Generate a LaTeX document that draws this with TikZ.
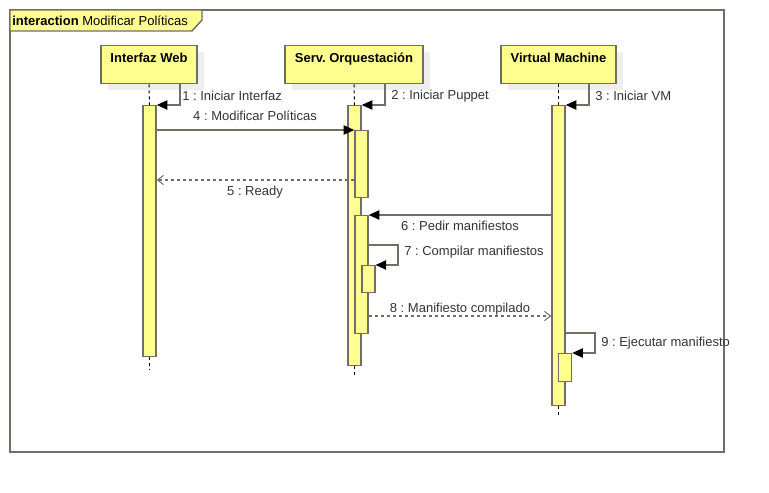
\documentclass[tikz,border=0pt]{standalone}
\usepackage{fontspec}
\setmainfont{Liberation Sans}
\usetikzlibrary{arrows.meta,calc}
\definecolor{umlfill}{HTML}{FFFF90}
\definecolor{umlline}{HTML}{6F6F66}
\definecolor{umlshadow}{HTML}{EEEEEE}
\definecolor{umltext}{HTML}{333333}
\begin{document}
\frenchspacing
\begin{tikzpicture}[x=0.75pt,y=-0.75pt,
  head/.style={draw=umlline,fill=umlfill,line width=1.1pt,inner sep=0pt,
    text=black,font=\fontsize{9.75}{11}\selectfont\bfseries,
    minimum height=28.5pt,text depth=10pt},
  bar/.style={draw=umlline,fill=umlfill,line width=1.1pt,inner sep=0pt,
    minimum width=9.75pt,minimum height={#1*0.75pt},anchor=north},
  bar/.default=20,
  lifeline/.style={draw=black,line width=0.75pt,dash pattern=on 2.25pt off 2.25pt},
  msg/.style={draw=umlline,line width=1.1pt},
  sync/.style={msg,-{Triangle[length=8pt,width=7pt,black]}},
  reply/.style={msg,dash pattern=on 2.25pt off 2.25pt,
    -{Straight Barb[length=4.5pt,width=7pt,line width=0.75pt]}},
  lbl/.style={text=umltext,font=\fontsize{9.75}{11}\selectfont,inner sep=0pt}
]
\useasboundingbox (0,0) rectangle (769,493);

% interaction frame with its name tab
\draw[draw=umlline,line width=1.1pt] (10,10) rectangle (724,452);
\draw[draw=umlline,line width=1.1pt,fill=umlfill]
  (10,10) -- (202,10) -- (202,20) -- (192,31) -- (10,31) -- cycle;
\node[lbl,anchor=west,text=black] (title) at (12,20.5)
  {\textbf{interaction} Modificar Políticas};

% lifeline heads with their soft shadows
\fill[umlshadow] (108,52) rectangle (204,90);
\fill[umlshadow] (292,52) rectangle (430,90);
\fill[umlshadow] (508,52) rectangle (623,90);
\node[head,minimum width=72pt,anchor=north] (iw) at (149,45) {Interfaz Web};
\node[head,minimum width=103.5pt,anchor=north] (so) at (354,45) {Serv. Orquestación};
\node[head,minimum width=86.25pt,anchor=north] (vm) at (558.5,45) {Virtual Machine};

% activation bars
\node[bar=251] (iwbar) at (149.5,105) {};
\node[bar=260] (sobar) at (354.5,105) {};
\node[bar=67]  (sobarA) at (361.5,130) {};
\node[bar=118] (sobarB) at (361.5,215) {};
\node[bar=27]  (sobarC) at (368.3,265) {};
\node[bar=300] (vmbar) at (558.5,105) {};
\node[bar=28]  (vmbarA) at (565,353) {};

% lifelines
\coordinate (iwend) at (149.5,370);
\coordinate (soend) at (354.5,376);
\coordinate (vmend) at (558.5,418);
\draw[lifeline] (iw.south) -- (iwbar.north);
\draw[lifeline] (so.south) -- (sobar.north);
\draw[lifeline] (vm.south) -- (vmbar.north);
\draw[lifeline] (iwbar.south) -- (iwend);
\draw[lifeline] (sobar.south) -- (soend);
\draw[lifeline] (vmbar.south) -- (vmend);

% 1-3: self calls starting each lifeline
\draw[sync] (iw.south -| 180,0) -- (180,105) -- (iwbar.north east);
\node[lbl,anchor=west] (m1) at (182,96) {1 : Iniciar Interfaz};
\draw[sync] (so.south -| 385,0) -- (385,105) -- (sobar.north east);
\node[lbl,anchor=west] (m2) at (391,96) {2 : Iniciar Puppet};
\draw[sync] (vm.south -| 589,0) -- (589,105) -- (vmbar.north east);
\node[lbl,anchor=west] (m3) at (595,96) {3 : Iniciar VM};

% 4: Modificar Políticas
\draw[sync] (iwbar.east |- sobarA.north) -- (sobarA.north west);
\node[lbl] (m4) at (255,116) {4 : Modificar Políticas};

% 5: Ready
\draw[reply] (sobarA.west |- 0,180) -- (iwbar.east |- 0,180);
\node[lbl] (m5) at (255,192) {5 : Ready};

% 6: Pedir manifiestos
\draw[sync] (vmbar.west |- sobarB.north) -- (sobarB.north east);
\node[lbl] (m6) at (460,226) {6 : Pedir manifiestos};

% 7: Compilar manifiestos
\draw[sync] (sobarB.east |- 0,245) -- (398,245) -- (398,265) -- (sobarC.north east);
\node[lbl,anchor=west] (m7) at (404,252) {7 : Compilar manifiestos};

% 8: Manifiesto compilado
\draw[reply] (sobarB.east |- 0,316) -- (vmbar.west |- 0,316);
\node[lbl] (m8) at (460,309) {8 : Manifiesto compilado};

% 9: Ejecutar manifiesto
\draw[sync] (vmbar.east |- 0,333) -- (595,333) -- (595,353) -- (vmbarA.north east);
\node[lbl,anchor=west] (m9) at (601,343) {9 : Ejecutar manifiesto};
\end{tikzpicture}
\end{document}
